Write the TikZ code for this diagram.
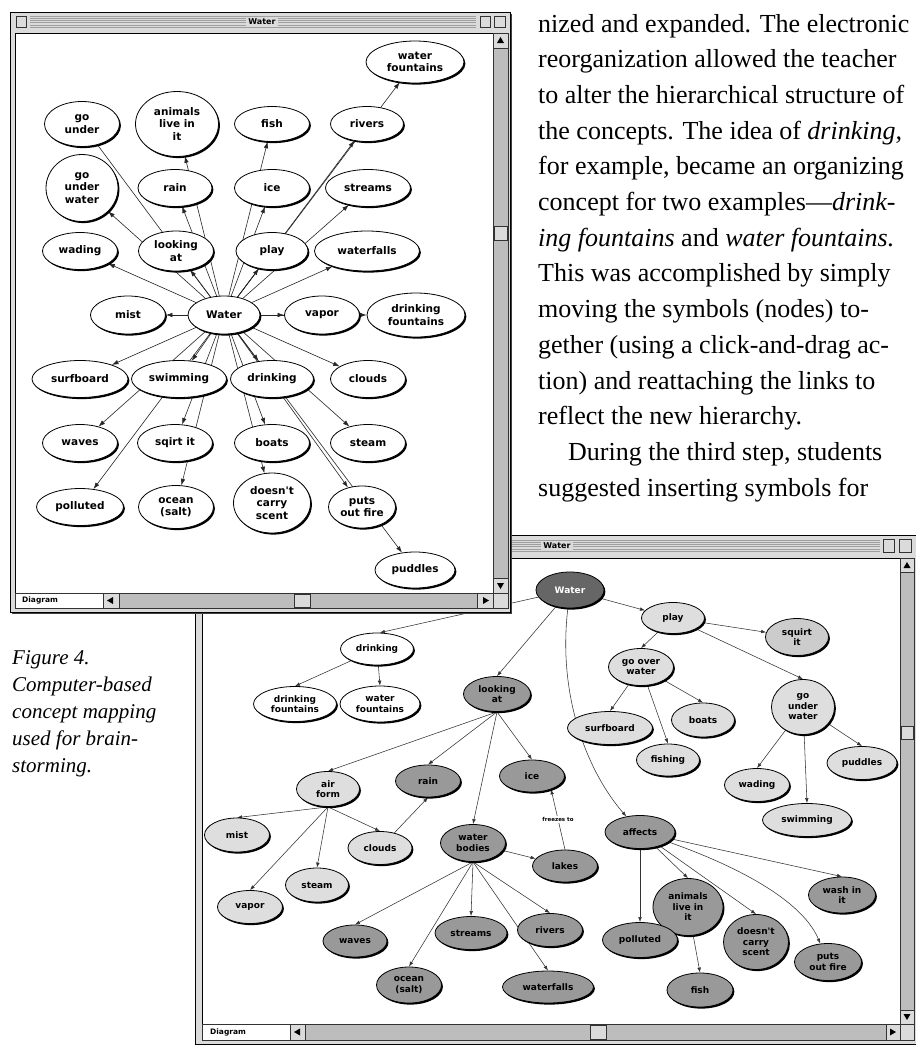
\documentclass[tikz,border=0pt]{standalone}
\usepackage{fontspec}
\setmainfont{Liberation Serif}
\newfontfamily\mapfont{DejaVu Sans}
\usetikzlibrary{shapes.geometric,arrows.meta,shadows}
\pgfdeclarelayer{bwin}
\pgfdeclarelayer{bedge}
\pgfdeclarelayer{bnode}
\pgfdeclarelayer{twin}
\pgfdeclarelayer{tedge}
\pgfsetlayers{bwin,bedge,bnode,twin,tedge,main}
\definecolor{winbg}{gray}{0.86}
\definecolor{track}{gray}{0.74}
\definecolor{stripe}{gray}{0.62}
\definecolor{dkfill}{gray}{0.40}
\definecolor{mdfill}{gray}{0.60}
\definecolor{ltfill}{gray}{0.87}
\definecolor{sqfill}{gray}{0.80}
\tikzset{
 sz/.style 2 args={minimum width=#1pt, minimum height=#2pt},
 mapnode/.style={ellipse, draw=black, line width=0.8pt, inner sep=0pt, align=center,
   drop shadow={shadow xshift=1.4pt, shadow yshift=-1.6pt, opacity=1, fill=black}},
 tn/.style={mapnode, fill=white, font=\mapfont\bfseries\fontsize{10.5}{12.5}\selectfont},
 bn/.style={mapnode, fill=white, font=\mapfont\bfseries\fontsize{9}{10.5}\selectfont},
 bdk/.style={bn, fill=dkfill, text=white},
 bmd/.style={bn, fill=mdfill},
 blt/.style={bn, fill=ltfill},
 bsq/.style={bn, fill=sqfill},
 te/.style={draw=black!85, line width=0.6pt, -{Latex[length=6.5pt,width=4.5pt]}},
 tl/.style={draw=black!85, line width=0.6pt},
 be/.style={draw=black!80, line width=0.55pt, -{Latex[length=5pt,width=3.6pt]}},
 body/.style={anchor=base west, inner sep=0pt, font=\fontsize{26}{30}\selectfont},
 capt/.style={anchor=base west, inner sep=0pt, font=\itshape\fontsize{21}{25}\selectfont},
 wtitle/.style={fill=winbg, inner sep=2pt, font=\mapfont\bfseries\fontsize{8}{9}\selectfont},
 sbar/.style={fill=track, draw=black!80, line width=0.5pt},
 sbox/.style={fill=winbg, draw=black!80, line width=0.5pt},
 wlabel/.style={anchor=west, inner sep=0pt, font=\mapfont\bfseries\fontsize{7.5}{8}\selectfont},
 flabel/.style={fill=white, inner sep=1pt, font=\mapfont\bfseries\fontsize{5.5}{6}\selectfont},
}
\begin{document}
\begin{tikzpicture}[x=1pt,y=-1pt]
\useasboundingbox (0,0) rectangle (916,1045);

% ---------------- bottom window frame ----------------
\begin{pgfonlayer}{bwin}
\fill[white] (0,0) rectangle (916,1045);
\filldraw[fill=winbg, draw=black, line width=0.8pt] (195,535) rectangle (918,1044);
\foreach \yy in {540,542.2,...,553} \draw[stripe, line width=0.6pt] (200,\yy) -- (880,\yy);
\node[wtitle] (btitle) at (557,546) {Water};
\filldraw[sbox] (883,539) rectangle (894,552);
\filldraw[sbox] (899,539) rectangle (911,552);
\filldraw[fill=white, draw=black, line width=0.6pt] (202,558) rectangle (900,1024);
\filldraw[sbar] (900,558) rectangle (914,1024);
\filldraw[sbox] (900,558) rectangle (914,572);
\fill (907,562) -- (903.5,568) -- (910.5,568) -- cycle;
\filldraw[sbox] (901,726) rectangle (913,739);
\filldraw[sbox] (900,1010) rectangle (914,1024);
\fill (907,1020) -- (903.5,1014) -- (910.5,1014) -- cycle;
\filldraw[sbar] (202,1024) rectangle (900,1040);
\filldraw[fill=white, draw=black!80, line width=0.5pt] (202,1024) rectangle (290,1040);
\node[wlabel] (bdiag) at (210,1032) {Diagram};
\filldraw[sbox] (290,1024) rectangle (305,1040);
\fill (294,1032) -- (300,1028.5) -- (300,1035.5) -- cycle;
\filldraw[sbox] (590,1025) rectangle (606,1039);
\filldraw[sbox] (886,1024) rectangle (900,1040);
\fill (896,1032) -- (890,1028.5) -- (890,1035.5) -- cycle;
\filldraw[sbox] (900,1024) rectangle (914,1040);
\end{pgfonlayer}

% ---------------- bottom window nodes ----------------
\begin{pgfonlayer}{bnode}
\node[bdk,sz={68}{36}] (bW) at (570,590) {Water};
\node[blt,sz={63}{31}] (bPlay) at (673,618) {play};
\node[bsq,sz={63}{37}] (bSq) at (797,637) {squirt\\it};
\node[blt,sz={65}{37}] (bGOW) at (641,667) {go over\\water};
\node[blt,sz={63}{55}] (bGUW) at (803,707) {go\\under\\water};
\node[blt,sz={63}{34}] (bBoats) at (703,720) {boats};
\node[blt,sz={85}{33}] (bSurf) at (610,728) {surfboard};
\node[blt,sz={63}{32}] (bFishing) at (668,760) {fishing};
\node[blt,sz={70}{33}] (bPud) at (862,763) {puddles};
\node[blt,sz={65}{33}] (bWad) at (757,785) {wading};
\node[blt,sz={89}{33}] (bSwim) at (807,820) {swimming};
\node[bmd,sz={70}{33}] (bAff) at (640,832) {affects};
\node[bmd,sz={65}{32}] (bLakes) at (565,866) {lakes};
\node[bmd,sz={67}{36}] (bWash) at (842,895) {wash in\\it};
\node[bmd,sz={70}{57}] (bAL) at (688,907) {animals\\live in\\it};
\node[bmd,sz={65}{55}] (bDCS) at (756,942) {doesn't\\carry\\scent};
\node[bmd,sz={67}{37}] (bPuts) at (828,962) {puts\\out fire};
\node[bmd,sz={75}{35}] (bPol) at (640,940) {polluted};
\node[bmd,sz={66}{34}] (bFish) at (700,990) {fish};
\node[bmd,sz={65}{33}] (bRiv) at (550,930) {rivers};
\node[bmd,sz={91}{32}] (bWf) at (548,987) {waterfalls};
\node[blt,sz={63}{35}] (bAir) at (328,789) {air\\form};
\node[bmd,sz={65}{32}] (bRain) at (428,781) {rain};
\node[bmd,sz={65}{32}] (bIce) at (532,776) {ice};
\node[blt,sz={65}{34}] (bMist) at (237,835) {mist};
\node[blt,sz={64}{33}] (bCl) at (380,848) {clouds};
\node[bmd,sz={65}{37}] (bWB) at (473,843) {water\\bodies};
\node[blt,sz={63}{34}] (bSteam) at (317,885) {steam};
\node[blt,sz={65}{33}] (bVap) at (250,907) {vapor};
\node[bmd,sz={64}{32}] (bWav) at (355,941) {waves};
\node[bmd,sz={72}{33}] (bStr) at (471,933) {streams};
\node[bmd,sz={65}{36}] (bOc) at (409,985) {ocean\\(salt)};
\node[bn,sz={73}{32}] (bDrink) at (377,649) {drinking};
\node[bn,sz={83}{35}] (bDF) at (295,704) {drinking\\fountains};
\node[bn,sz={80}{36}] (bWFt) at (380,704) {water\\fountains};
\node[bmd,sz={67}{35}] (bLook) at (497,694) {looking\\at};
\end{pgfonlayer}

% ---------------- bottom window edges ----------------
\begin{pgfonlayer}{bedge}
\draw[be] (bW) -- (bDrink.80);
\draw[be] (bW) -- (bLook.north);
\draw[be] (bW) -- (bPlay);
\draw[be] (bW) .. controls (557,700) and (590,775) .. (bAff);
\draw[be] (bPlay) -- (bSq);
\draw[be] (bPlay) -- (bGOW.north);
\draw[be] (bPlay) -- (bGUW.north);
\draw[be] (bGOW) -- (bSurf.north);
\draw[be] (bGOW) -- (bFishing.north);
\draw[be] (bGOW) -- (bBoats.north);
\draw[be] (bGUW) -- (bWad.north);
\draw[be] (bGUW) -- (bSwim.north);
\draw[be] (bGUW) -- (bPud.north);
\draw[be] (bLook.south) -- (bAir.north);
\draw[be] (bLook.south) -- (bRain.north);
\draw[be] (bLook.south) -- (bWB.north);
\draw[be] (bLook.south) -- (bIce.north);
\draw[be] (bAir.south) -- (bMist.north);
\draw[be] (bAir.south) -- (bVap.north);
\draw[be] (bAir.south) -- (bSteam.north);
\draw[be] (bAir.south) -- (bCl.north);
\draw[be] (bCl) -- (bRain.south);
\draw[be] (bWB.south) -- (bWav.north);
\draw[be] (bWB.south) -- (bOc.north);
\draw[be] (bWB.south) -- (bStr.north);
\draw[be] (bWB.south) -- (bRiv.north);
\draw[be] (bWB.south) -- (bWf.north);
\draw[be] (bWB) -- (bLakes);
\draw[be] (bLakes.north) -- node[flabel] {freezes to} (bIce.-35);
\draw[be] (bAff) -- (bPol.north);
\draw[be] (bAff) -- (bAL.north);
\draw[be] (bAff) -- (bDCS.north);
\draw[be] (bAff) .. controls (720,860) and (800,895) .. (bPuts);
\draw[be] (bAff) -- (bWash.north);
\draw[be] (bAL) -- (bFish.north);
\draw[be] (bDrink) -- (bDF.north);
\draw[be] (bDrink) -- (bWFt.north);
\end{pgfonlayer}

% ---------------- top window frame ----------------
\begin{pgfonlayer}{twin}
\fill[black!75] (12,14) rectangle (512,614);
\filldraw[fill=winbg, draw=black, line width=0.8pt] (10,12) rectangle (510,612);
\foreach \yy in {16,18.2,...,29} \draw[stripe, line width=0.6pt] (30,\yy) -- (476,\yy);
\filldraw[fill=white, draw=black, line width=0.6pt] (15,33) rectangle (493,593);
\end{pgfonlayer}
\node[wtitle] (ttitle) at (262,22) {Water};
\filldraw[sbox] (16,16) rectangle (26,27);
\filldraw[sbox] (480,16) rectangle (490,27);
\filldraw[sbox] (494,16) rectangle (505,27);
\filldraw[sbar] (493,33) rectangle (508,593);
\filldraw[sbox] (493,33) rectangle (508,48);
\fill (500.5,37) -- (497,43) -- (504,43) -- cycle;
\filldraw[sbox] (494,226) rectangle (507,240);
\filldraw[sbox] (493,578) rectangle (508,593);
\fill (500.5,589) -- (497,583) -- (504,583) -- cycle;
\filldraw[sbar] (15,593) rectangle (493,608);
\filldraw[fill=white, draw=black!80, line width=0.5pt] (15,593) rectangle (103,608);
\node[wlabel] (tdiag) at (22,600.5) {Diagram};
\filldraw[sbox] (103,593) rectangle (119,608);
\fill (107,600.5) -- (113,597) -- (113,604) -- cycle;
\filldraw[sbox] (294,594) rectangle (310,607);
\filldraw[sbox] (477,593) rectangle (493,608);
\fill (489,600.5) -- (483,597) -- (483,604) -- cycle;
\filldraw[sbox] (493,593) rectangle (508,608);

% ---------------- top window nodes ----------------
\node[tn,sz={98}{42}] (tWF) at (415,62) {water\\fountains};
\node[tn,sz={75}{45}] (tGU) at (82,124) {go\\under};
\node[tn,sz={83}{65}] (tAL) at (177,124) {animals\\live in\\it};
\node[tn,sz={75}{35}] (tFish) at (272,124) {fish};
\node[tn,sz={73}{35}] (tRiv) at (367,124) {rivers};
\node[tn,sz={72}{67}] (tGUW) at (82,188) {go\\under\\water};
\node[tn,sz={74}{37}] (tRain) at (175,188) {rain};
\node[tn,sz={75}{37}] (tIce) at (272,188) {ice};
\node[tn,sz={85}{37}] (tStr) at (368,188) {streams};
\node[tn,sz={75}{37}] (tWad) at (80,251) {wading};
\node[tn,sz={75}{40}] (tLook) at (176,251) {looking\\at};
\node[tn,sz={72}{37}] (tPlay) at (272,251) {play};
\node[tn,sz={105}{40}] (tWfall) at (367,251) {waterfalls};
\node[tn,sz={75}{38}] (tMist) at (128,315) {mist};
\node[tn,sz={72}{38}] (tW) at (224,315) {Water};
\node[tn,sz={75}{38}] (tVap) at (322,315) {vapor};
\node[tn,sz={98}{44}] (tDF) at (416,315) {drinking\\fountains};
\node[tn,sz={96}{37}] (tSurf) at (80,379) {surfboard};
\node[tn,sz={95}{37}] (tSwim) at (179,379) {swimming};
\node[tn,sz={83}{37}] (tDrink) at (272,379) {drinking};
\node[tn,sz={75}{37}] (tCl) at (368,379) {clouds};
\node[tn,sz={75}{37}] (tWav) at (80,443) {waves};
\node[tn,sz={75}{37}] (tSq) at (175,443) {sqirt it};
\node[tn,sz={75}{37}] (tBoats) at (272,443) {boats};
\node[tn,sz={75}{37}] (tSteam) at (368,443) {steam};
\node[tn,sz={87}{37}] (tPol) at (80,507) {polluted};
\node[tn,sz={75}{43}] (tOc) at (176,507) {ocean\\(salt)};
\node[tn,sz={77}{60}] (tDoes) at (272,503) {doesn't\\carry\\scent};
\node[tn,sz={67}{42}] (tPuts) at (362,507) {puts\\out fire};
\node[tn,sz={80}{36}] (tPud) at (415,570) {puddles};

% ---------------- top window edges ----------------
\begin{pgfonlayer}{tedge}
\foreach \t in {tWad,tLook,tPlay,tWfall,tGUW,tAL,tRain,tFish,tIce,tRiv,tWF,tStr,tMist,tVap,tDF,tSurf,tSwim,tDrink,tCl,tWav,tPol,tSq,tOc,tBoats,tDoes,tSteam,tPuts,tPud}
  \draw[te] (tW) -- (\t);
\draw[tl] (tW) -- (tGU);
\end{pgfonlayer}

% ---------------- text column ----------------
\node[body] (l1) at (538,32) {nized and expanded. The electronic};
\node[body] (l2) at (538,67.7) {reorganization allowed the teacher};
\node[body] (l3) at (538,103.4) {to alter the hierarchical structure of};
\node[body] (l4) at (538,139.1) {the concepts. The idea of \textit{drinking,}};
\node[body] (l5) at (538,174.8) {for example, became an organizing};
\node[body] (l6) at (538,210.5) {concept for two examples---\textit{drink-}};
\node[body] (l7) at (538,246.2) {\textit{ing fountains} and \textit{water fountains.}};
\node[body] (l8) at (538,281.9) {This was accomplished by simply};
\node[body] (l9) at (538,317.6) {moving the symbols (nodes) to-};
\node[body] (l10) at (538,353.3) {gether (using a click-and-drag ac-};
\node[body] (l11) at (538,389) {tion) and reattaching the links to};
\node[body] (l12) at (538,424.7) {reflect the new hierarchy.};
\node[body] (l13) at (568,460.4) {During the third step, students};
\node[body] (l14) at (538,496.1) {suggested inserting symbols for};

% ---------------- caption ----------------
\node[capt] (c1) at (12,664) {Figure 4.};
\node[capt] (c2) at (12,691) {Computer-based};
\node[capt] (c3) at (12,718) {concept mapping};
\node[capt] (c4) at (12,745) {used for brain-};
\node[capt] (c5) at (12,772) {storming.};
\end{tikzpicture}
\end{document}
